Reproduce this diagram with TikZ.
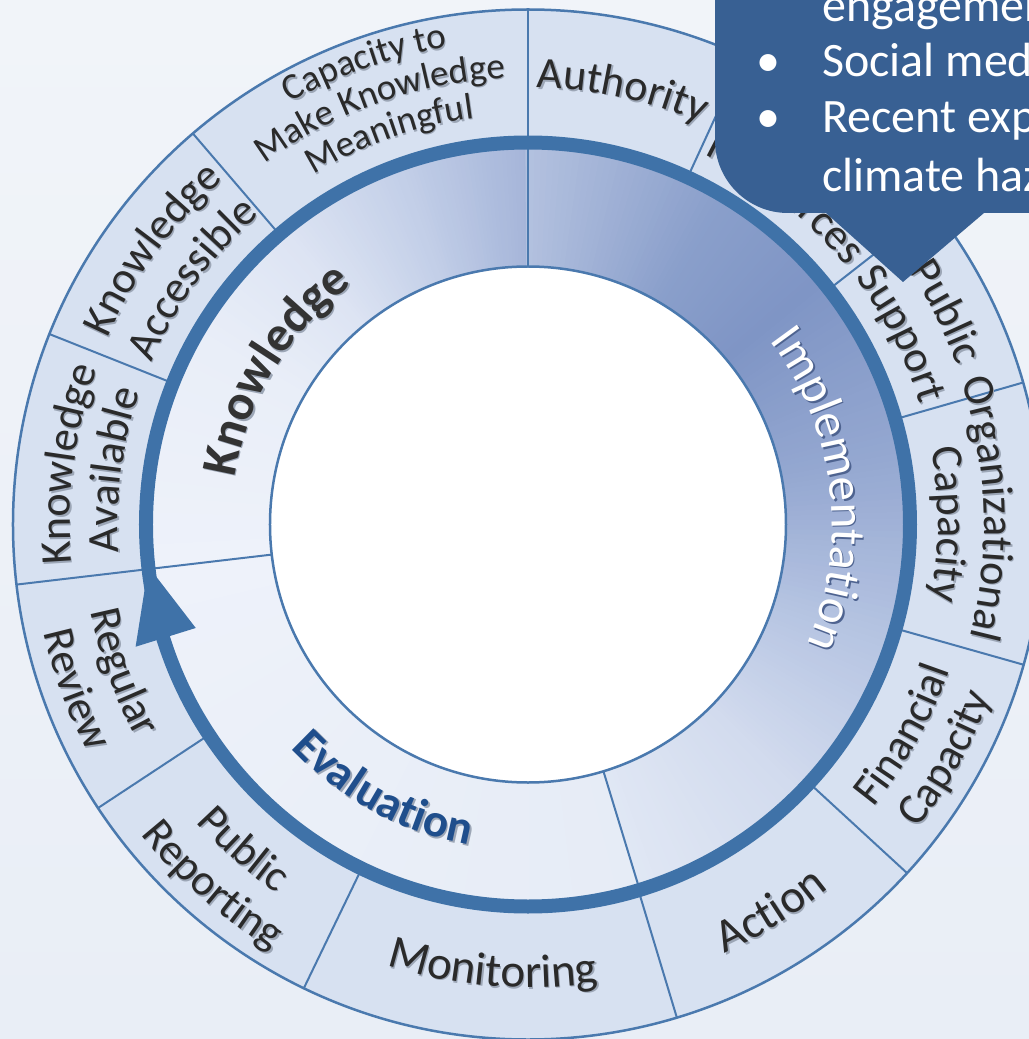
\documentclass[tikz,border=0pt]{standalone}
\usepackage{fontspec}
\setmainfont{Carlito}
\usetikzlibrary{decorations.text}
\definecolor{bgtop}{HTML}{F1F4F9}
\definecolor{bgbot}{HTML}{E9EEF6}
\definecolor{ringc}{HTML}{D7E1F1}
\definecolor{linec}{HTML}{4A79AE}
\definecolor{arrowc}{HTML}{3F72A8}
\definecolor{callc}{HTML}{386093}
\definecolor{labc}{HTML}{2A2A2A}
\definecolor{knowc}{HTML}{333333}
\definecolor{shadc}{HTML}{9CA6B6}
\definecolor{evalc}{HTML}{1F4E8C}
\definecolor{implshad}{HTML}{4E6390}
\definecolor{ia}{HTML}{B3C1DF}
\definecolor{ib}{HTML}{8A9FCB}
\definecolor{ic}{HTML}{7F95C5}
\definecolor{id}{HTML}{95A8D1}
\definecolor{ie}{HTML}{B8C6E3}
\definecolor{if}{HTML}{D2DBEE}
\definecolor{ig}{HTML}{E0E7F4}
\definecolor{ka}{HTML}{A5B5D9}
\definecolor{kb}{HTML}{C3CFE8}
\definecolor{kc}{HTML}{DDE4F3}
\definecolor{kd}{HTML}{E9EEF8}
\definecolor{ke}{HTML}{EEF2FA}
\definecolor{ea}{HTML}{EEF2FA}
\definecolor{eb}{HTML}{E6ECF6}
\newcommand\gradsector[4]{%
  \foreach \k in {0,...,29}{%
    \pgfmathsetmacro\gsA{#1+(#2-#1)*\k/30}%
    \pgfmathsetmacro\gsB{#1+(#2-#1)*(\k+1)/30+((#2-#1)>0?0.4:-0.4)}%
    \pgfmathsetmacro\gsP{100*(\k+0.5)/30}%
    \fill[#4!\gsP!#3] (\gsA:258) arc[start angle=\gsA,end angle=\gsB,radius=258]
      -- (\gsB:376) arc[start angle=\gsB,end angle=\gsA,radius=376] -- cycle;
  }%
}
% #1 direction (1 tops outward, -1 tops inward), #2 baseline radius, #3 centre angle,
% #4 font, #5 colour, #6 shadow colour, #7 text
\newcommand\arclab[7]{%
  \pgfmathsetmacro\laS{#3+50*#1}%
  \pgfmathsetmacro\laE{#3-50*#1}%
  \begin{scope}[shift={(1.3,-1.6)}]
    \path[decorate,decoration={text along path,text align=center,
      text={|#4\color{#6}|#7}}] (\laS:#2) arc[start angle=\laS,end angle=\laE,radius=#2];
  \end{scope}
  \path[decorate,decoration={text along path,text align=center,
    text={|#4\color{#5}|#7}}] (\laS:#2) arc[start angle=\laS,end angle=\laE,radius=#2];
}
\newcommand\fa{\fontsize{44bp}{44bp}\selectfont}
\newcommand\fb{\fontsize{37bp}{37bp}\selectfont}
\newcommand\fc{\fontsize{47bp}{47bp}\selectfont}
\tikzset{
  divider/.style={draw=linec,line width=2bp},
  outline/.style={draw=linec,line width=2.5bp},
  calltext/.style={text=white,font=\fontsize{48bp}{57bp}\selectfont,inner sep=0pt},
}
\begin{document}
\begin{tikzpicture}[x=1bp,y=1bp]
\useasboundingbox (-528,-514.5) rectangle (501,524.5);
\clip (-528,-514.5) rectangle (501,524.5);
\shade[top color=bgtop,bottom color=bgbot] (-528,-514.5) rectangle (501,524.5);
% outer ring
\fill[ringc] (0,0) circle[radius=515];
% middle ring gradients
\gradsector{90}{110}{ka}{kb}
\gradsector{110}{130}{kb}{kc}
\gradsector{130}{150}{kc}{kd}
\gradsector{150}{186.7}{kd}{ke}
\gradsector{186.7}{287}{ea}{eb}
\gradsector{-73}{-45}{ig}{if}
\gradsector{-45}{-20}{if}{ie}
\gradsector{-20}{10}{ie}{id}
\gradsector{10}{40}{id}{ic}
\gradsector{40}{60}{ic}{ib}
\gradsector{60}{90}{ib}{ia}
\fill[white] (0,0) circle[radius=258];
% dividers
\foreach \a in {186.7,158.3,130.6,90,65.3,38,16,-15.8,-42.6,-73.2,-115.8,213.4}
  \draw[divider] (\a:386) -- (\a:515);
\foreach \a in {90,-73,186.7}
  \draw[divider] (\a:258) -- (\a:378);
\draw[outline] (0,0) circle[radius=515];
\draw[outline] (0,0) circle[radius=258];
% cycle arrow
\draw[arrowc,line width=14bp] (0,0) circle[radius=382];
\fill[arrowc] (186.3:382) -- (197.3:411) -- (197.3:348) -- cycle;
% outer labels
\arclab{1}{458}{172.5}{\fa}{labc}{shadc}{Knowledge}
\arclab{1}{410}{172.5}{\fa}{labc}{shadc}{Available}
\arclab{1}{460}{143.8}{\fa}{labc}{shadc}{Knowledge}
\arclab{1}{410}{143.8}{\fa}{labc}{shadc}{Accessible}
\arclab{1}{484}{109.5}{\fb}{labc}{shadc}{Capacity to}
\arclab{1}{447}{109.5}{\fb}{labc}{shadc}{Make Knowledge}
\arclab{1}{410}{109.5}{\fb}{labc}{shadc}{Meaningful}
\arclab{1}{437}{77.7}{\fa}{labc}{shadc}{Authority}
\arclab{1}{410}{51.7}{\fa}{labc}{shadc}{Resources}
\arclab{1}{458}{27}{\fa}{labc}{shadc}{Public}
\arclab{1}{410}{27}{\fa}{labc}{shadc}{Support}
\arclab{1}{456}{2}{\fa}{labc}{shadc}{Organizational}
\arclab{1}{410}{0}{\fa}{labc}{shadc}{Capacity}
\arclab{-1}{446}{-29.2}{\fa}{labc}{shadc}{Financial}
\arclab{-1}{494}{-29.2}{\fa}{labc}{shadc}{Capacity}
\arclab{-1}{472}{-57.9}{\fc}{labc}{shadc}{Action}
\arclab{-1}{463}{-94.5}{\fc}{labc}{shadc}{Monitoring}
\arclab{-1}{446}{228.8}{\fa}{labc}{shadc}{Public}
\arclab{-1}{496}{228.8}{\fa}{labc}{shadc}{Reporting}
\arclab{-1}{446}{200}{\fa}{labc}{shadc}{Regular}
\arclab{-1}{496}{200}{\fa}{labc}{shadc}{Review}
% middle labels
\arclab{1}{297}{148.5}{\fontsize{50bp}{50bp}\selectfont\bfseries}{knowc}{shadc}{Knowledge}
\arclab{1}{304}{7}{\fontsize{49bp}{49bp}\selectfont}{white}{implshad}{Implementation}
\arclab{-1}{326}{241.5}{\fontsize{47bp}{47bp}\selectfont\bfseries}{evalc}{shadc}{Evaluation}
% callout
\fill[callc] (187,600) -- (187,384.5) arc[start angle=180,end angle=270,radius=73]
  -- (298,311.5) -- (375,242.5) -- (456,311.5) -- (600,311.5) -- (600,600) -- cycle;
\node[calltext,anchor=base west] (l1) at (294,502.5) {engagemen};
\node[calltext,anchor=base] (b2) at (240,447.5) {•};
\node[calltext,anchor=base west] (l2) at (294,447.5) {Social med};
\node[calltext,anchor=base] (b3) at (240,391.5) {•};
\node[calltext,anchor=base west] (l3) at (294,391.5) {Recent exp};
\node[calltext,anchor=base west] (l4) at (294,332.5) {climate haz};
\end{tikzpicture}
\end{document}
